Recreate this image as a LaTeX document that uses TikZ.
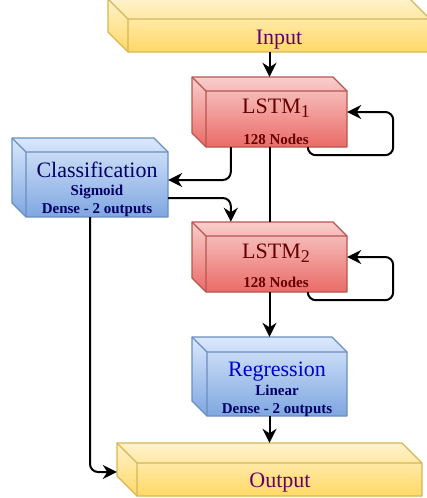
\documentclass[tikz,border=0pt]{standalone}
\usepackage{fontspec}
\setmainfont{Liberation Serif}
\usetikzlibrary{arrows.meta,fit,calc}
\definecolor{YT}{HTML}{FFF2CC}\definecolor{YB}{HTML}{FFD966}\definecolor{YS}{HTML}{D6B656}
\definecolor{RT}{HTML}{F8CECC}\definecolor{RB}{HTML}{EA6B66}\definecolor{RS}{HTML}{B85450}
\definecolor{BT}{HTML}{DAE8FC}\definecolor{BB}{HTML}{7EA6E0}\definecolor{BS}{HTML}{6C8EBF}
\definecolor{iotext}{HTML}{660066}
\definecolor{lstmtext}{HTML}{660000}
\definecolor{navytext}{HTML}{000066}
\definecolor{regtext}{HTML}{0000CC}
\tikzset{
  arr/.style={-{Stealth[length=14pt,width=14pt,inset=4.5pt]}, line width=2pt, rounded corners=8pt},
  plainline/.style={line width=2pt},
  biglbl/.style={font=\fontsize{22}{26}\selectfont, anchor=base, inner sep=0pt},
  smalllbl/.style={font=\bfseries\fontsize{15}{18}\selectfont, anchor=base, inner sep=0pt},
}
\newcommand\lsub[1]{\raisebox{-4pt}{\fontsize{18}{18}\selectfont #1}}
% name, x0, y0, x1, y1, depth, colour prefix
\newcommand\drawcube[7]{%
  \path[top color=#7T, bottom color=#7B, draw=#7S, line width=1.3pt, line join=round]
    (#2,#3) -- (#4-#6,#3) -- (#4,#3+#6) -- (#4,#5) -- (#2+#6,#5) -- (#2,#5-#6) -- cycle;
  \draw[#7S, line width=1.3pt, line join=round]
    (#2,#3) -- (#2+#6,#3+#6) -- (#4,#3+#6) (#2+#6,#3+#6) -- (#2+#6,#5);
  \node[fit={(#2,#3) (#4,#5)}, inner sep=0pt] (#1) {};
}
\begin{document}
\begin{tikzpicture}[x=1pt,y=-1pt]
\useasboundingbox (0,0) rectangle (427,498);
\clip (0,0) rectangle (427,498);

\drawcube{input}{108}{-1}{430}{52}{20}{Y}
\drawcube{lstma}{192}{77}{347}{147}{14}{R}
\drawcube{class}{12}{138}{168}{217}{14}{B}
\drawcube{lstmb}{192}{222}{347}{292}{14}{R}
\drawcube{reg}{192}{337}{347}{416}{15}{B}
\drawcube{output}{117}{443}{422}{496}{20}{Y}

% labels
\node[biglbl, text=iotext] (tin) at (279,44) {Input};
\node[biglbl, text=iotext] (tout) at (280,487) {Output};
\node[biglbl, text=lstmtext] (tla) at (276,113) {LSTM\lsub{1}};
\node[smalllbl, text=lstmtext] (tlan) at (276,144) {128 Nodes};
\node[biglbl, text=lstmtext] (tlb) at (276,258) {LSTM\lsub{2}};
\node[smalllbl, text=lstmtext] (tlbn) at (276,287) {128 Nodes};
\node[biglbl, text=navytext] (tcl) at (97,177) {Classification};
\node[smalllbl, text=navytext] (tcls) at (97,195) {Sigmoid};
\node[smalllbl, text=navytext] (tcld) at (97,213) {Dense - 2 outputs};
\node[biglbl, text=regtext] (trg) at (277,376) {Regression};
\node[smalllbl, text=navytext] (trgl) at (277,395) {Linear};
\node[smalllbl, text=navytext] (trgd) at (277,413) {Dense - 2 outputs};

% connectors
\draw[arr] (lstma.north |- input.south) -- (lstma.north);
\draw[plainline] (lstma.south) -- (lstmb.north);
\draw[arr] (lstmb.south) -- (reg.north);
\draw[arr] (reg.south) -- (reg.south |- output.north);
\draw[arr] ([xshift=39pt]lstma.south west) |- ([yshift=-2.5pt]class.east);
\draw[arr] ([yshift=-20.5pt]class.east) -| ([xshift=39pt]lstmb.north west);
\draw[arr] (class.south) |- ([yshift=-2.5pt]output.west);
\draw[arr] ([xshift=116pt]lstma.south west) -- ++(0,8) -| ([xshift=46pt]lstma.east) -- (lstma.east);
\draw[arr] ([xshift=116pt]lstmb.south west) -- ++(0,8) -| ([xshift=46pt]lstmb.east) -- (lstmb.east);
\end{tikzpicture}
\end{document}
